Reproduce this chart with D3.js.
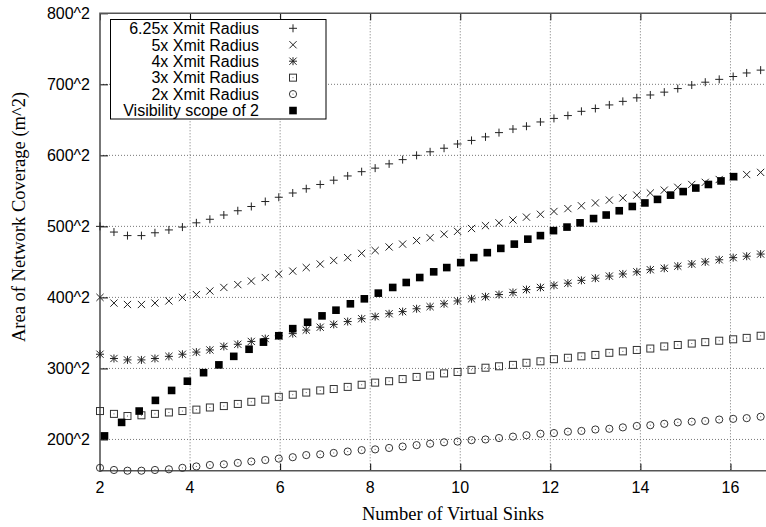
<!DOCTYPE html>
<html>
<head>
<meta charset="utf-8">
<script src="https://cdn.jsdelivr.net/npm/d3@7"></script>
<style>
  body { margin: 0; background: #fff; }
  .tick-label { font-family: "Liberation Sans", Arial, sans-serif; font-size: 16px; fill: #000; }
  .axis-title { font-family: "Liberation Serif", "Times New Roman", serif; font-size: 18.5px; fill: #000; }
  .key text { font-family: "Liberation Sans", Arial, sans-serif; font-size: 16px; fill: #000; }
</style>
</head>
<body>
<div id="chart"></div>
<script>
// Number of virtual sinks, shared by the Xmit radius runs
var sinks = [2, 2.31, 2.61, 2.92, 3.22, 3.53, 3.83, 4.14, 4.44, 4.75, 5.06, 5.36, 5.67, 5.97,
  6.28, 6.58, 6.89, 7.19, 7.5, 7.81, 8.11, 8.42, 8.72, 9.03, 9.33, 9.64, 9.94, 10.25, 10.56,
  10.86, 11.17, 11.47, 11.78, 12.08, 12.39, 12.69, 13, 13.31, 13.61, 13.92, 14.22, 14.53,
  14.83, 15.14, 15.44, 15.75, 16.06, 16.36, 16.67];

// Coverage side length (area = value^2) for each transmit radius multiple
var radius625 = [500, 492, 487, 487, 491, 495, 499, 505, 510, 516, 522, 528, 535, 541, 547, 553,
  559, 565, 571, 577, 582, 588, 594, 600, 605, 610, 616, 621, 626, 632, 637, 641, 647, 652, 656,
  662, 666, 671, 676, 681, 685, 689, 694, 699, 703, 707, 711, 716, 720];
var radius5 = [400, 392, 390, 390, 392, 395, 400, 404, 409, 414, 418, 423, 428, 433, 437, 442,
  447, 452, 456, 462, 466, 471, 475, 480, 484, 489, 493, 497, 501, 505, 509, 513, 517, 521, 525,
  529, 533, 537, 540, 544, 547, 551, 555, 559, 562, 566, 570, 573, 576];
var radius4 = [320, 314, 312, 312, 314, 317, 320, 323, 326, 331, 334, 338, 342, 346, 349, 354,
  358, 362, 366, 370, 373, 377, 380, 384, 387, 391, 395, 398, 401, 404, 407, 411, 414, 417, 420,
  424, 427, 430, 433, 436, 439, 441, 444, 447, 450, 453, 456, 458, 461];
var radius3 = [240, 236, 233, 234, 236, 238, 240, 242, 245, 247, 250, 253, 256, 260, 263, 266,
  269, 271, 274, 277, 280, 282, 285, 288, 290, 293, 295, 298, 301, 303, 305, 308, 310, 313, 315,
  317, 319, 322, 324, 326, 328, 331, 333, 335, 337, 339, 341, 343, 346];
var radius2 = [160, 157, 156, 156, 157, 158, 160, 162, 164, 165, 167, 169, 171, 173, 175, 178,
  179, 181, 183, 185, 186, 188, 190, 192, 194, 196, 197, 199, 200, 202, 204, 206, 208, 209, 211,
  212, 214, 215, 217, 219, 220, 222, 224, 225, 226, 228, 229, 230, 232];

// Visibility scope run has its own sink counts
var scopeSinks = [2.1, 2.48, 2.87, 3.23, 3.59, 3.94, 4.3, 4.64, 4.97, 5.31, 5.63, 5.97, 6.28,
  6.61, 6.93, 7.24, 7.56, 7.87, 8.18, 8.5, 8.8, 9.1, 9.41, 9.7, 10.01, 10.3, 10.6, 10.9, 11.2,
  11.5, 11.78, 12.07, 12.37, 12.66, 12.96, 13.24, 13.53, 13.82, 14.1, 14.38, 14.67, 14.95,
  15.23, 15.51, 15.79, 16.07];
var scopeRadius = [205, 224, 240, 255, 269, 282, 294, 305, 317, 327, 337, 346, 356, 365, 374,
  382, 391, 398, 406, 414, 421, 428, 436, 442, 449, 456, 463, 469, 475, 482, 487, 494, 499, 505,
  511, 516, 522, 528, 533, 538, 544, 549, 554, 559, 564, 570];

var seriesNames = ["6.25x Xmit Radius", "5x Xmit Radius", "4x Xmit Radius",
  "3x Xmit Radius", "2x Xmit Radius", "Visibility scope of 2"];

var xTicks = [2, 4, 6, 8, 10, 12, 14, 16],
    yTicks = [200, 300, 400, 500, 600, 700, 800];

var series = [
  {name: seriesNames[0], xs: sinks, ys: radius625, mark: "plus"},
  {name: seriesNames[1], xs: sinks, ys: radius5, mark: "cross"},
  {name: seriesNames[2], xs: sinks, ys: radius4, mark: "star"},
  {name: seriesNames[3], xs: sinks, ys: radius3, mark: "box"},
  {name: seriesNames[4], xs: sinks, ys: radius2, mark: "circle"},
  {name: seriesNames[5], xs: scopeSinks, ys: scopeRadius, mark: "fillbox"}
];

var W = 766, H = 527,
    margin = {top: 13.3, left: 100, bottom: 470.7, right: 771};

var xScale = d3.scaleLinear()
    .domain([2, 16.9])
    .range([margin.left, margin.right]),
    yScale = d3.scaleLinear()
    .domain([156, 800])
    .range([margin.bottom, margin.top]);

var svg = d3.select("#chart").append("svg")
    .attr("width", W)
    .attr("height", H);

// dotted grid
var grid = svg.append("g")
    .attr("stroke", "#777")
    .attr("stroke-width", 1)
    .attr("stroke-dasharray", "1,2");

grid.selectAll(".vgrid")
    .data(xTicks.slice(1))
  .enter().append("line")
    .attr("x1", function(d) { return xScale(d); })
    .attr("x2", function(d) { return xScale(d); })
    .attr("y1", margin.top)
    .attr("y2", margin.bottom);

grid.selectAll(".hgrid")
    .data(yTicks.slice(0, -1))
  .enter().append("line")
    .attr("x1", margin.left)
    .attr("x2", W)
    .attr("y1", function(d) { return yScale(d); })
    .attr("y2", function(d) { return yScale(d); });

// axes: ticks point inward, labels drawn separately
var xAxis = d3.axisBottom(xScale).tickValues(xTicks).tickSize(-7).tickFormat(""),
    xAxisTop = d3.axisTop(xScale).tickValues(xTicks).tickSize(-7).tickFormat(""),
    yAxis = d3.axisLeft(yScale).tickValues(yTicks).tickSize(-8).tickFormat("");

svg.append("g")
    .attr("transform", "translate(0," + margin.bottom + ")")
    .call(xAxis);
svg.append("g")
    .attr("transform", "translate(0," + margin.top + ")")
    .call(xAxisTop);
svg.append("g")
    .attr("transform", "translate(" + margin.left + ",0)")
    .call(yAxis);

svg.selectAll(".domain").remove();
svg.selectAll(".tick line").attr("stroke", "#000");

// frame
svg.append("path")
    .attr("d", "M" + W + "," + margin.top + "H" + margin.left + "V" + margin.bottom + "H" + W)
    .attr("fill", "none")
    .attr("stroke", "#555")
    .attr("stroke-width", 1.6);

svg.selectAll(".xlab")
    .data(xTicks)
  .enter().append("text")
    .attr("class", "tick-label")
    .attr("text-anchor", "middle")
    .attr("x", function(d) { return xScale(d); })
    .attr("y", 493)
    .text(function(d) { return d; });

svg.selectAll(".ylab")
    .data(yTicks)
  .enter().append("text")
    .attr("class", "tick-label")
    .attr("text-anchor", "end")
    .attr("x", 90)
    .attr("y", function(d) { return yScale(d); })
    .attr("dy", "0.36em")
    .text(function(d) { return d + "^2"; });

svg.append("text")
    .attr("class", "axis-title")
    .attr("text-anchor", "middle")
    .attr("x", 453)
    .attr("y", 520)
    .text("Number of Virtual Sinks");

svg.append("text")
    .attr("class", "axis-title")
    .attr("text-anchor", "middle")
    .attr("transform", "translate(25,217) rotate(-90)")
    .text("Area of Network Coverage (m^2)");

// point markers, gnuplot style
function drawMark(g, mark) {
  var s = 3.6;
  if (mark === "plus") {
    g.append("path").attr("d", "M-4,0H4M0,-4V4")
      .attr("stroke", "#222").attr("fill", "none");
  } else if (mark === "cross") {
    g.append("path").attr("d", "M" + -s + "," + -s + "L" + s + "," + s + "M" + -s + "," + s + "L" + s + "," + -s)
      .attr("stroke", "#222").attr("fill", "none");
  } else if (mark === "star") {
    g.append("path").attr("d", "M-4,0H4M0,-4V4M" + -s + "," + -s + "L" + s + "," + s + "M" + -s + "," + s + "L" + s + "," + -s)
      .attr("stroke", "#222").attr("fill", "none");
  } else if (mark === "box") {
    g.append("rect").attr("x", -3.5).attr("y", -3.5).attr("width", 7).attr("height", 7)
      .attr("stroke", "#333").attr("fill", "none");
    g.append("rect").attr("x", -0.5).attr("y", -0.5).attr("width", 1).attr("height", 1).attr("fill", "#666");
  } else if (mark === "circle") {
    g.append("circle").attr("r", 3.6)
      .attr("stroke", "#333").attr("fill", "none");
    g.append("rect").attr("x", -0.5).attr("y", -0.5).attr("width", 1).attr("height", 1).attr("fill", "#666");
  } else {
    g.append("rect").attr("x", -3.8).attr("y", -3.8).attr("width", 7.6).attr("height", 7.6)
      .attr("fill", "#000");
  }
}

series.forEach(function(sr) {
  var pts = sr.xs.map(function(x, i) { return {x: x, y: sr.ys[i]}; });
  svg.append("g")
    .selectAll("g")
      .data(pts)
    .enter().append("g")
      .attr("transform", function(d) { return "translate(" + xScale(d.x) + "," + yScale(d.y) + ")"; })
      .each(function() { drawMark(d3.select(this), sr.mark); });
});

// key box in the upper left
var key = svg.append("g").attr("class", "key");

key.append("rect")
    .attr("x", 110.5)
    .attr("y", 19.5)
    .attr("width", 215.5)
    .attr("height", 99.5)
    .attr("fill", "#fff")
    .attr("stroke", "#000");

var rows = key.selectAll(".row")
    .data(series)
  .enter().append("g")
    .attr("transform", function(d, i) { return "translate(0," + (28.3 + i * 16.45) + ")"; });

rows.append("text")
    .attr("x", 259)
    .attr("dy", "0.36em")
    .attr("text-anchor", "end")
    .text(function(d) { return d.name; });

rows.append("g")
    .attr("transform", "translate(293,0)")
    .each(function(d) { drawMark(d3.select(this), d.mark); });
</script>
</body>
</html>
